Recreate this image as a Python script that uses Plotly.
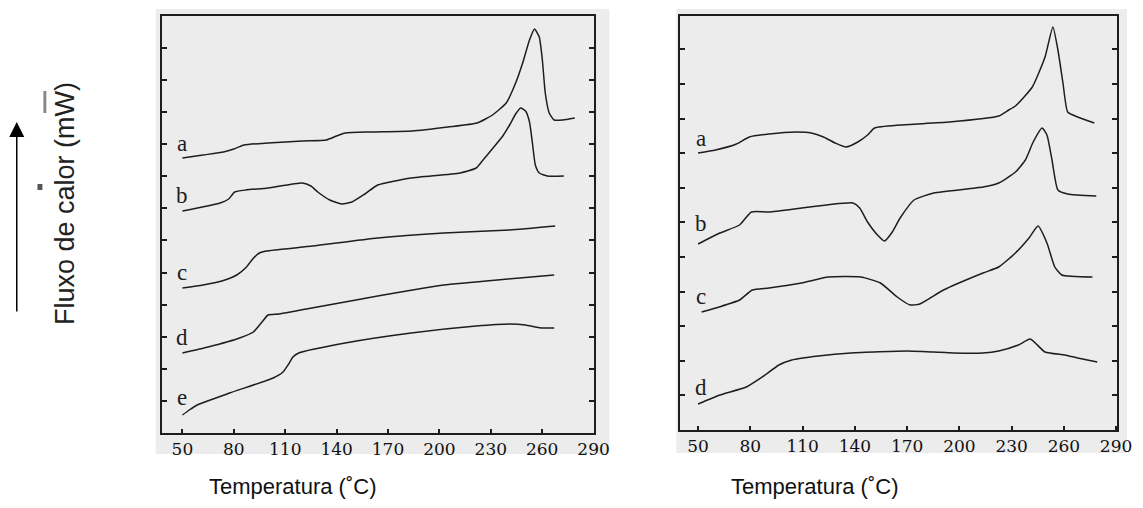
import plotly.graph_objects as go

W, H = 1143, 508

# ---------------- data (temperature in °C, heat flow in arbitrary units) ----------------
# Left panel
L_a_T = [50, 62, 74, 80, 86, 100, 120, 134, 140, 145, 160, 184, 205, 222, 231, 239, 244.5, 248.6,
         252.6, 255.5, 258.3, 260.1, 261.8, 264.1, 267, 272, 279]
L_a_Q = [275, 278, 281, 284, 288, 290, 292, 293, 297, 300, 301, 302, 306, 310, 318, 330, 350, 370,
         393, 404, 396, 373, 340, 320, 313, 313, 315]

L_b_T = [50, 72, 77, 80.5, 87, 100, 120, 125, 129, 136, 143, 149, 156.5, 164, 183.5, 212, 221.5,
         225.5, 231.3, 237, 241, 244.5, 247.4, 250.3, 252.6, 254.3, 256, 258.3, 263, 272.7]
L_b_Q = [222, 230, 234, 241, 243, 245, 250, 247, 241, 233, 229, 231, 239, 248, 255, 260, 265,
         273, 285, 297, 308, 319, 325, 322, 311, 290, 268, 260, 257, 257]

L_c_T = [50, 62, 73, 81.7, 87.4, 91, 94.9, 98.9, 126, 164, 202.5, 241, 267.6]
L_c_Q = [145, 148, 152, 158, 166, 174, 180, 182, 187, 195, 200, 203, 207]

L_d_T = [50, 65, 83.4, 91.4, 96, 100, 106.4, 135.2, 164, 202.5, 240, 267]
L_d_Q = [80, 86, 95, 101, 110, 118, 119, 128, 137, 148, 154, 158]

L_e_T = [50, 54, 58.6, 77.6, 103, 108.7, 112, 114.5, 117.9, 145, 183.5, 221.5, 241, 250.3, 256, 260, 267]
L_e_Q = [18, 23, 28, 40, 55, 61, 69, 76, 80, 90, 100, 107, 109, 108, 106, 105, 105]

# Right panel
R_a_T = [50, 60, 72, 79.4, 90.7, 106, 115, 122, 128.7, 134.9, 141.7, 147.3, 151.3, 166, 194.3,
         222.6, 228.3, 232.2, 241.9, 249.2, 253.7, 256.6, 259.5, 262.2, 267.9, 277.5]
R_a_Q = [277, 280, 286, 293, 296, 298, 297, 293, 287, 283, 288, 295, 302, 305, 308,
         314, 320, 324, 343, 373, 403, 380, 347, 318, 313, 307]

R_b_T = [50, 62.5, 73.8, 80.6, 90.7, 138.9, 142.8, 147.3, 153, 157, 161.5, 166, 174, 185.3, 213.6,
         222.6, 232.2, 237.9, 242.4, 247.5, 250.3, 253.2, 256.6, 262.2, 278.6]
R_b_Q = [186, 197, 205, 218, 218, 227, 222, 208, 195, 189, 198, 212, 230, 237, 243,
         247, 258, 270, 288, 302, 295, 270, 240, 236, 234]

R_c_T = [52, 62, 73.8, 81.1, 90.7, 109.4, 124.7, 143.4, 154.7, 164.3, 171.7, 177.3, 190.9, 213.6,
         222.6, 232.2, 240, 245.2, 250.3, 254.8, 258.8, 276.4]
R_c_Q = [118, 123, 130, 140, 142, 147, 153, 153, 147, 133, 125, 126, 140, 157,
         163, 177, 192, 204, 187, 163, 155, 153]

R_d_T = [50, 62.5, 77.7, 86.8, 96.4, 103.8, 119, 137.7, 170, 185.3, 196.6, 213.6, 222.6, 233.9,
         240.7, 249.2, 260.5, 267.9, 279.2]
R_d_Q = [26, 35, 43, 53, 65, 70, 74, 77, 79, 78, 77, 77, 79, 85, 91, 78, 75, 72, 68]

x_ticks = [50, 80, 110, 140, 170, 200, 230, 260, 290]
curve_labels = ["a", "b", "c", "d", "e"]
L_label_Q = [289, 237, 161, 96, 36]
R_label_Q = [291, 206, 134, 43]

x_title = "Temperatura (˚C)"
y_title = "Fluxo de calor (mW)"

# ---------------- figure ----------------
def px(x):
    return x / W

def py(y):
    return 1 - y / H

BG = "#ececec"
INK = "#1e1e1e"

fig = go.Figure()

left = [(L_a_T, L_a_Q), (L_b_T, L_b_Q), (L_c_T, L_c_Q), (L_d_T, L_d_Q), (L_e_T, L_e_Q)]
right = [(R_a_T, R_a_Q), (R_b_T, R_b_Q), (R_c_T, R_c_Q), (R_d_T, R_d_Q)]

for T, Q in left:
    fig.add_trace(go.Scatter(x=T, y=Q, mode="lines", xaxis="x", yaxis="y",
                             line=dict(color=INK, width=1.5, shape="spline", smoothing=0.5),
                             showlegend=False, hoverinfo="skip"))
for T, Q in right:
    fig.add_trace(go.Scatter(x=T, y=Q, mode="lines", xaxis="x2", yaxis="y2",
                             line=dict(color=INK, width=1.5, shape="spline", smoothing=0.5),
                             showlegend=False, hoverinfo="skip"))

annotations = []
for lab, q in zip(curve_labels, L_label_Q):
    annotations.append(dict(x=49.5, y=q, xref="x", yref="y", text=lab, showarrow=False,
                            xanchor="center", yanchor="middle",
                            font=dict(family="Liberation Serif", size=23, color=INK)))
for lab, q in zip(curve_labels, R_label_Q):
    annotations.append(dict(x=51.5, y=q, xref="x2", yref="y2", text=lab, showarrow=False,
                            xanchor="center", yanchor="middle",
                            font=dict(family="Liberation Serif", size=23, color=INK)))

annotations.append(dict(x=px(297), y=py(486), xref="paper", yref="paper", text=x_title,
                        xanchor="center", yanchor="middle", showarrow=False,
                        font=dict(family="Liberation Sans", size=22, color="#111")))
annotations.append(dict(x=px(826), y=py(486), xref="paper", yref="paper", text=x_title,
                        xanchor="center", yanchor="middle", showarrow=False,
                        font=dict(family="Liberation Sans", size=22, color="#111")))
annotations.append(dict(x=px(66), y=py(204), xref="paper", yref="paper", text=y_title,
                        xanchor="center", yanchor="middle", textangle=-90, showarrow=False,
                        font=dict(family="Liberation Sans", size=27, color="#222")))
# upward arrow
annotations.append(dict(x=px(17), y=py(122), xref="paper", yref="paper", text="",
                        showarrow=True, ax=0, ay=191, axref="pixel", ayref="pixel",
                        arrowhead=2, arrowsize=2, arrowwidth=1.5, arrowcolor="#000"))

shapes = [
    dict(type="rect", xref="paper", yref="paper", x0=px(158), x1=px(618), y0=py(454), y1=py(9),
         fillcolor=BG, line=dict(width=0), layer="below"),
    dict(type="rect", xref="paper", yref="paper", x0=px(686), x1=px(1143), y0=py(453), y1=py(9),
         fillcolor=BG, line=dict(width=0), layer="below"),
    # scan specks near the axis title
    dict(type="rect", xref="paper", yref="paper", x0=px(38), x1=px(43), y0=py(190), y1=py(184),
         fillcolor="#555", line=dict(width=0)),
    dict(type="rect", xref="paper", yref="paper", x0=px(44), x1=px(47), y0=py(113), y1=py(91),
         fillcolor="#888", line=dict(width=0)),
]

xcommon = dict(tickvals=x_ticks, ticktext=[str(v) for v in x_ticks], ticks="inside", ticklen=4,
               tickwidth=1.5, tickcolor=INK, showline=True, linewidth=2, linecolor=INK,
               mirror=True, showgrid=False, zeroline=False,
               tickfont=dict(family="DejaVu Serif", size=17, color="#111"))
ycommon = dict(ticks="inside", ticklen=5, tickwidth=1.5, tickcolor=INK, showline=True,
               linewidth=2, linecolor=INK, mirror="ticks", showgrid=False, zeroline=False,
               showticklabels=False, tick0=0)

fig.update_layout(
    width=W, height=H,
    margin=dict(l=0, r=0, t=0, b=0),
    paper_bgcolor="white", plot_bgcolor=BG,
    xaxis=dict(domain=[px(164), px(602)], range=[37.9, 290], anchor="y", **xcommon),
    yaxis=dict(domain=[py(433), py(16)], range=[0, 417], dtick=32.1, anchor="x", **ycommon),
    xaxis2=dict(domain=[px(690), px(1133)], range=[39.8, 290.6], anchor="y2", **xcommon),
    yaxis2=dict(domain=[py(430), py(16)], range=[0, 414], dtick=34.6, anchor="x2", **ycommon),
    annotations=annotations, shapes=shapes,
)

fig.write_html("out.html")
